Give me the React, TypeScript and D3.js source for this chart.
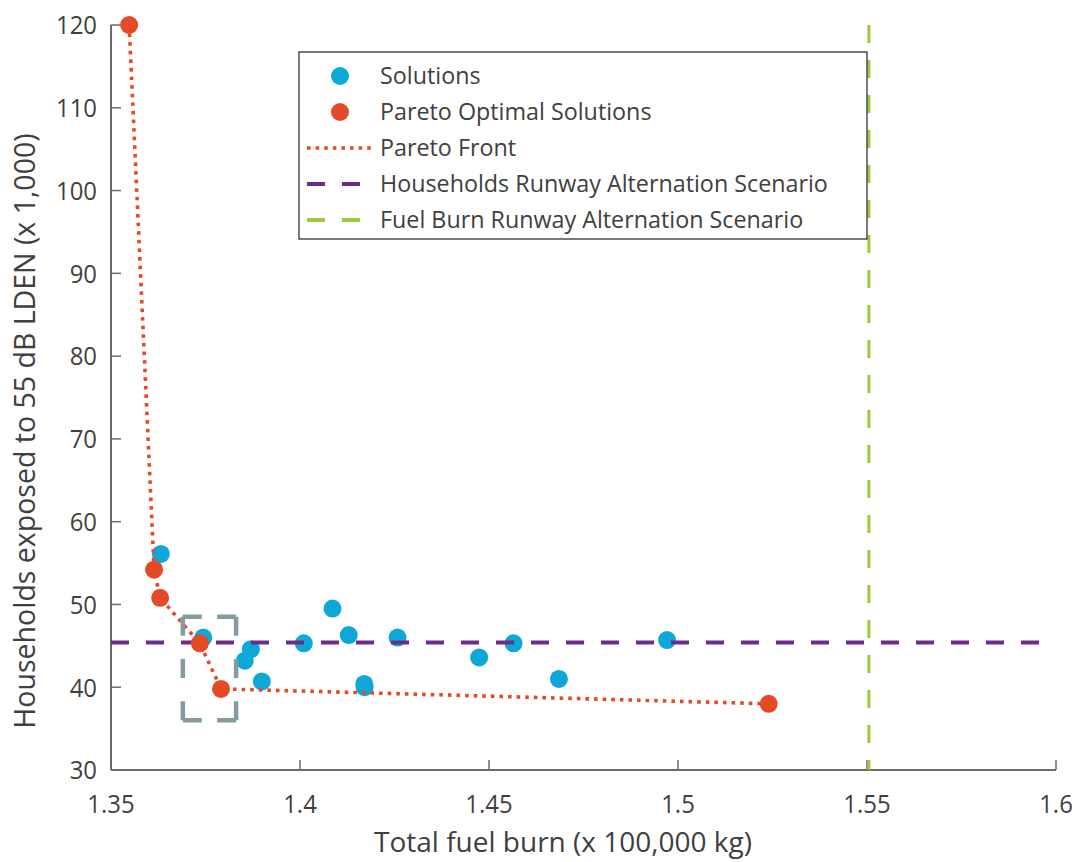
import React from "react";
import * as d3 from "d3";

// Fuel burn (x 100,000 kg) and households exposed (x 1,000) for every evaluated solution
const solutionFuel = [1.3632, 1.3744, 1.3854, 1.387, 1.3899, 1.401, 1.4086, 1.4129, 1.417, 1.4171, 1.4258, 1.4474, 1.4565, 1.4685, 1.4971];
const solutionHouseholds = [56.1, 46.0, 43.2, 44.6, 40.7, 45.3, 49.5, 46.3, 40.4, 40.0, 46.0, 43.6, 45.3, 41.0, 45.7];

// Pareto optimal subset, ordered along the front
const paretoFuel = [1.3548, 1.3614, 1.363, 1.3735, 1.3791, 1.524];
const paretoHouseholds = [120, 54.2, 50.8, 45.3, 39.8, 38.0];

// Reference scenarios
const householdsScenario = 45.4;
const fuelBurnScenario = 1.5505;

// Highlighted region around the knee of the front
const highlightFuel = [1.369, 1.3831];
const highlightHouseholds = [36.0, 48.5];

const xTicks = [1.35, 1.4, 1.45, 1.5, 1.55, 1.6];
const yTicks = [30, 40, 50, 60, 70, 80, 90, 100, 110, 120];

const legendLabels = [
  "Solutions",
  "Pareto Optimal Solutions",
  "Pareto Front",
  "Households Runway Alternation Scenario",
  "Fuel Burn Runway Alternation Scenario",
];

const BLUE = "#0ea8d8";
const RED = "#e44a26";
const PURPLE = "#6d2c8a";
const GREEN = "#9cca3c";
const GREYTEAL = "#849ca0";
const TEXT = "#404040";
const AXIS = "#6b6b6b";
const FONT = "'Open Sans', 'Noto Sans', sans-serif";

function dashedSide(x1: number, y1: number, x2: number, y2: number, dash: number, gapGuess: number) {
  const len = Math.hypot(x2 - x1, y2 - y1);
  const n = Math.max(2, Math.round((len + gapGuess) / (dash + gapGuess)));
  const gap = (len - n * dash) / (n - 1);
  return { len, dasharray: `${dash} ${gap}` };
}

export default function App() {
  const width = 1075;
  const height = 862;
  const x = d3.scaleLinear().domain([1.35, 1.6]).range([111, 1056]);
  const y = d3.scaleLinear().domain([30, 120]).range([770, 25]);

  const frontLine = d3
    .line<number>()
    .x((_, i) => x(paretoFuel[i]))
    .y((_, i) => y(paretoHouseholds[i]));

  const hx0 = x(highlightFuel[0]);
  const hx1 = x(highlightFuel[1]);
  const hy0 = y(highlightHouseholds[1]);
  const hy1 = y(highlightHouseholds[0]);
  const sides = [
    [hx0, hy0, hx1, hy0],
    [hx1, hy0, hx1, hy1],
    [hx1, hy1, hx0, hy1],
    [hx0, hy1, hx0, hy0],
  ];

  const legendX = 299;
  const legendY = 52;
  const legendW = 568;
  const legendH = 187;
  const rowY = (i: number) => legendY + 24 + i * 36;
  const tickFont = 26;
  const tickSquash = 0.92;

  return (
    <svg
      width={width}
      height={height}
      style={{ position: "absolute", left: 0, top: 0, background: "#fff" }}
      fontFamily={FONT}
    >
      {/* axes */}
      <line x1={x(1.35)} x2={x(1.35)} y1={y(120)} y2={y(30)} stroke={AXIS} strokeWidth={2} />
      <line x1={x(1.35)} x2={x(1.6)} y1={y(30)} y2={y(30)} stroke={AXIS} strokeWidth={2} />
      {yTicks.map((t) => (
        <g key={`y${t}`}>
          <line x1={x(1.35)} x2={x(1.35) + 10} y1={y(t)} y2={y(t)} stroke={AXIS} strokeWidth={1.5} />
          <text
            transform={`translate(97, ${y(t)}) scale(${tickSquash}, 1)`}
            dy="0.36em"
            textAnchor="end"
            fontSize={tickFont}
            fill={TEXT}
          >
            {t}
          </text>
        </g>
      ))}
      {xTicks.map((t) => (
        <g key={`x${t}`}>
          <line x1={x(t)} x2={x(t)} y1={y(30)} y2={y(30) - 10} stroke={AXIS} strokeWidth={1.5} />
          <text
            transform={`translate(${x(t)}, 813) scale(${tickSquash}, 1)`}
            textAnchor="middle"
            fontSize={tickFont}
            fill={TEXT}
          >
            {d3.format("~g")(t)}
          </text>
        </g>
      ))}
      <text x={563} y={852} textAnchor="middle" fontSize={28} fill={TEXT}>
        Total fuel burn (x 100,000 kg)
      </text>
      <text
        transform="translate(35, 431) rotate(-90)"
        textAnchor="middle"
        fontSize={28.5}
        fill={TEXT}
      >
        Households exposed to 55 dB LDEN (x 1,000)
      </text>

      {/* all solutions */}
      {solutionFuel.map((f, i) => (
        <circle key={`s${i}`} cx={x(f)} cy={y(solutionHouseholds[i])} r={9} fill={BLUE} />
      ))}

      {/* households scenario */}
      <line
        x1={x(1.35)}
        x2={x(1.6)}
        y1={y(householdsScenario)}
        y2={y(householdsScenario)}
        stroke={PURPLE}
        strokeWidth={4}
        strokeDasharray="18 17"
      />

      {/* pareto front */}
      <path
        d={frontLine(paretoFuel) || ""}
        fill="none"
        stroke={RED}
        strokeWidth={3.6}
        strokeDasharray="3.6 5"
      />
      {paretoFuel.map((f, i) => (
        <circle key={`p${i}`} cx={x(f)} cy={y(paretoHouseholds[i])} r={9} fill={RED} />
      ))}

      {/* fuel burn scenario */}
      <line
        x1={x(fuelBurnScenario)}
        x2={x(fuelBurnScenario)}
        y1={y(120)}
        y2={y(30)}
        stroke={GREEN}
        strokeWidth={3}
        strokeDasharray="18 17"
      />

      {/* highlighted region */}
      {sides.map(([a, b, c, d], i) => {
        const s = dashedSide(a, b, c, d, 19, 20);
        return (
          <line
            key={`h${i}`}
            x1={a}
            y1={b}
            x2={c}
            y2={d}
            stroke={GREYTEAL}
            strokeWidth={4.5}
            strokeDasharray={s.dasharray}
          />
        );
      })}

      {/* legend */}
      <rect x={legendX} y={legendY} width={legendW} height={legendH} fill="#fff" stroke="#333" strokeWidth={1.3} />
      <circle cx={340} cy={rowY(0)} r={9} fill={BLUE} />
      <circle cx={340} cy={rowY(1)} r={9} fill={RED} />
      <line x1={307} x2={373} y1={rowY(2)} y2={rowY(2)} stroke={RED} strokeWidth={3.6} strokeDasharray="3.6 5" />
      <line x1={307} x2={360} y1={rowY(3)} y2={rowY(3)} stroke={PURPLE} strokeWidth={4} strokeDasharray="18 17" />
      <line x1={307} x2={360} y1={rowY(4)} y2={rowY(4)} stroke={GREEN} strokeWidth={4} strokeDasharray="18 17" />
      {legendLabels.map((l, i) => (
        <text key={l} x={380} y={rowY(i)} dy="0.36em" fontSize={23.3} fill={TEXT}>
          {l}
        </text>
      ))}
    </svg>
  );
}
